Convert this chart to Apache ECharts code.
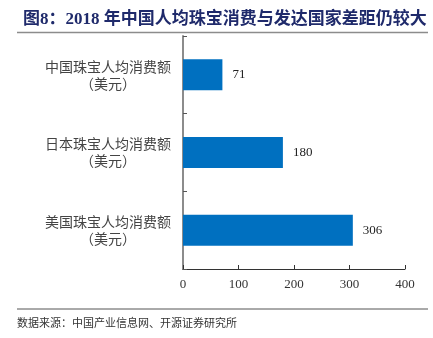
<!DOCTYPE html>
<html>
<head>
<meta charset="utf-8">
<script src="https://cdn.jsdelivr.net/npm/echarts@6/dist/echarts.min.js"></script>
<style>
  html, body { margin: 0; padding: 0; background: #fff; }
  #chart { width: 433px; height: 338px; }
</style>
</head>
<body>
<div id="chart"></div>
<script>
// Per-capita jewellery spending, 2018 (USD)
const categories = ['中国珠宝人均消费额\n（美元）', '日本珠宝人均消费额\n（美元）', '美国珠宝人均消费额\n（美元）'];
const values = [71, 180, 306];
const xTicks = [0, 100, 200, 300, 400];

const serif = '"Liberation Serif", "Times New Roman", "Noto Sans CJK SC", serif';
const cjk = '"Noto Sans CJK SC", sans-serif';

const chart = echarts.init(document.getElementById('chart'), null, { renderer: 'canvas' });

chart.setOption({
  animation: false,
  title: {
    text: '图8：2018 年中国人均珠宝消费与发达国家差距仍较大',
    left: 18,
    top: 6,
    textStyle: { fontFamily: serif, fontSize: 17, fontWeight: 'bold', color: '#1F2A6B' }
  },
  graphic: [
    { type: 'line', shape: { x1: 17, y1: 32.5, x2: 428, y2: 32.5 }, style: { stroke: '#8c8c8c', lineWidth: 1.5 } },
    { type: 'line', shape: { x1: 17, y1: 309, x2: 428, y2: 309 }, style: { stroke: '#555', lineWidth: 1 } },
    { type: 'text', left: 17, top: 317,
      style: { text: '数据来源：中国产业信息网、开源证券研究所', font: '11px ' + cjk, fill: '#333' } }
  ],
  grid: { left: 183, right: 28, top: 36, bottom: 69, containLabel: false },
  xAxis: {
    type: 'value',
    min: xTicks[0],
    max: xTicks[xTicks.length - 1],
    interval: 100,
    axisLine: { show: true, lineStyle: { color: '#333', width: 1 } },
    axisTick: { show: true, inside: true, length: 4, lineStyle: { color: '#333' } },
    splitLine: { show: false },
    axisLabel: { fontFamily: serif, fontSize: 13, color: '#333', margin: 9 }
  },
  yAxis: {
    type: 'category',
    data: categories,
    inverse: true,
    axisLine: { show: true, lineStyle: { color: '#8c8c8c', width: 2 } },
    axisTick: { show: true, inside: true, length: 4, lineStyle: { color: '#555' } },
    axisLabel: { fontFamily: cjk, fontSize: 14, color: '#444', margin: 75, align: 'center', lineHeight: 17 }
  },
  series: [{
    type: 'bar',
    data: values,
    barCategoryGap: '60%',
    itemStyle: { color: '#0070C0' },
    label: { show: true, position: 'right', distance: 10, fontFamily: serif, fontSize: 13, color: '#222' }
  }]
});
</script>
</body>
</html>
